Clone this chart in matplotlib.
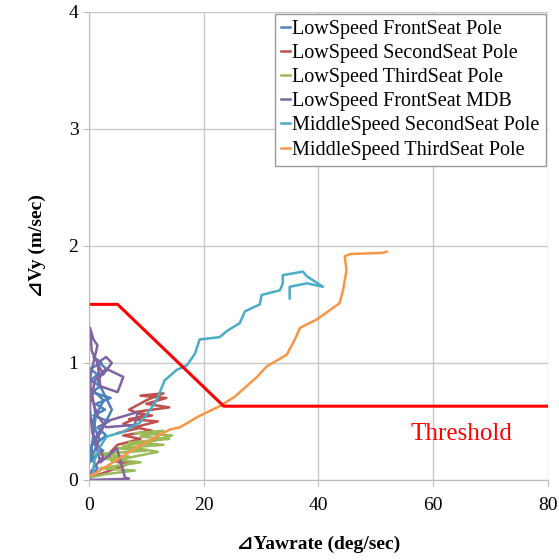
import numpy as np
import matplotlib.pyplot as plt

plt.rcParams['font.family'] = ['Liberation Serif', 'DejaVu Sans']

# ******** data ********
labels = ["LowSpeed FrontSeat Pole", "LowSpeed SecondSeat Pole", "LowSpeed ThirdSeat Pole",
          "LowSpeed FrontSeat MDB", "MiddleSpeed SecondSeat Pole", "MiddleSpeed ThirdSeat Pole"]
colors = ["#4F81BD", "#C0504D", "#9BBB59", "#8064A2", "#4BACC6", "#F79646"]

blue_x = [0.2, 1.5, 0.5, 2.5, 1.0, 3.0, 1.5, 3.5, 0.8, 2.8, 1.2, 3.8, 0.5, 2.0, 0.3, 1.5,
          0.2, 2.2, 0.8, 3.0, 1.5, 4.0, 2.0, 0.5, 0.2, 1.8, 0.6, 2.6, 0.4, 1.2, 0.3]
blue_y = [0.02, 0.10, 0.18, 0.25, 0.30, 0.38, 0.45, 0.50, 0.55, 0.60, 0.65, 0.70, 0.75, 0.80, 0.85, 0.90,
          0.95, 1.00, 1.05, 0.95, 0.85, 0.60, 0.40, 0.30, 0.15, 0.35, 0.50, 0.68, 0.78, 0.55, 0.20]

red_x = [0.0, 2.0, 6.5, 4.0, 7.5, 3.0, 5.0, 9.0, 6.0, 11.0, 8.0, 12.0, 7.0, 11.0, 8.0, 14.0,
         10.0, 13.5, 9.0, 13.0, 10.0, 7.0, 9.5, 6.0, 8.5, 5.0]
red_y = [0.02, 0.05, 0.13, 0.17, 0.15, 0.20, 0.30, 0.35, 0.38, 0.42, 0.45, 0.50, 0.52, 0.55, 0.58, 0.62,
         0.65, 0.70, 0.72, 0.74, 0.68, 0.60, 0.55, 0.48, 0.44, 0.40]

green_x = [0.0, 3.0, 8.0, 2.0, 9.0, 3.0, 7.0, 1.0, 10.0, 5.0, 13.0, 7.0, 14.0, 9.0, 13.0, 8.0,
           14.5, 11.0, 6.0, 12.0, 4.0]
green_y = [0.02, 0.05, 0.08, 0.10, 0.15, 0.18, 0.20, 0.22, 0.25, 0.27, 0.30, 0.32, 0.35, 0.37, 0.42, 0.40,
           0.38, 0.33, 0.29, 0.24, 0.16]

purple_x = [0.2, 7.0, 6.3, 4.9, 2.0, 1.0, 3.0, 8.5, 8.0, 3.0, 1.5, 0.5, 1.0, 3.0, 6.0, 5.0, 2.0,
            1.5, 3.0, 4.0, 2.5, 0.5, 0.2, 0.8, 1.5, 0.3, 0.2, 0.6, 2.5, 0.8, 0.1]
purple_y = [0.0, 0.01, 0.02, 0.27, 0.15, 0.35, 0.50, 0.58, 0.47, 0.45, 0.55, 0.70, 0.85, 0.95, 0.88, 0.75, 0.80,
            1.00, 1.05, 1.00, 0.90, 1.10, 1.30, 1.20, 1.15, 0.90, 0.60, 0.40, 0.20, 0.10, 0.05]

teal_x = [0.2, 0.7, 1.0, 1.9, 3.1, 5.9, 8.9, 10.1, 11.8, 13.2, 15.3, 17.1, 18.5, 19.3, 22.8, 24.0, 26.3,
          27.2, 29.8, 30.1, 33.3, 33.8, 33.8, 36.2, 37.3, 38.0, 40.8, 38.0, 35.0, 35.0]
teal_y = [0.02, 0.06, 0.17, 0.28, 0.37, 0.41, 0.49, 0.56, 0.68, 0.85, 0.94, 0.98, 1.08, 1.20, 1.22, 1.27, 1.34,
          1.44, 1.50, 1.58, 1.62, 1.68, 1.75, 1.77, 1.78, 1.74, 1.65, 1.68, 1.65, 1.55]

orange_x = [0.2, 4.2, 8.4, 14.1, 15.9, 19.0, 22.8, 25.4, 29.3, 31.0, 34.5, 35.9, 36.8, 39.7,
            43.7, 44.3, 44.9, 44.6, 45.5, 51.2, 51.9]
orange_y = [0.03, 0.15, 0.28, 0.43, 0.45, 0.54, 0.63, 0.71, 0.88, 0.97, 1.07, 1.20, 1.30, 1.37,
            1.51, 1.62, 1.79, 1.91, 1.93, 1.94, 1.95]

thr_x = [0, 5, 23.5, 80]
thr_y = [1.5, 1.5, 0.63, 0.63]

series = [(blue_x, blue_y), (red_x, red_y), (green_x, green_y),
          (purple_x, purple_y), (teal_x, teal_y), (orange_x, orange_y)]

# ******** plot ********
fig = plt.figure(figsize=(5.59, 5.60), dpi=100)
ax = fig.add_axes([0.159, 0.143, 0.821, 0.836])

for (x, y), c, lab in zip(series, colors, labels):
    ax.plot(x, y, color=c, lw=1.8, label=lab)

ax.plot(thr_x, thr_y, color="#FF0000", lw=2.2)
ax.text(65, 0.39, "Threshold", color="#FF0000", fontsize=18, ha="center", va="center")

ax.set_xlim(0, 80)
ax.set_ylim(0, 4)
ax.set_xticks([0, 20, 40, 60, 80])
ax.set_yticks([0, 1, 2, 3, 4])
ax.grid(True, color="#C8C8C8", lw=1)
ax.set_axisbelow(True)
for s in ["top", "right"]:
    ax.spines[s].set_visible(False)
for s in ["left", "bottom"]:
    ax.spines[s].set_color("#BBBBBB")
ax.tick_params(colors="#BBBBBB", labelcolor="black", labelsize=14, length=4)
ax.tick_params(axis="x", pad=8)

ax.set_xlabel("⊿Yawrate (deg/sec)", fontsize=14, fontweight="bold", labelpad=16)
ax.set_ylabel("⊿Vy (m/sec)", fontsize=14, fontweight="bold", labelpad=16)

leg = ax.legend(loc="upper right", fontsize=14.5, handlelength=0.45, handletextpad=0.1,
                labelspacing=0.25, borderpad=0.3, fancybox=False, framealpha=1,
                edgecolor="#999999", borderaxespad=0.1)

fig.savefig("out.png", dpi=100)
